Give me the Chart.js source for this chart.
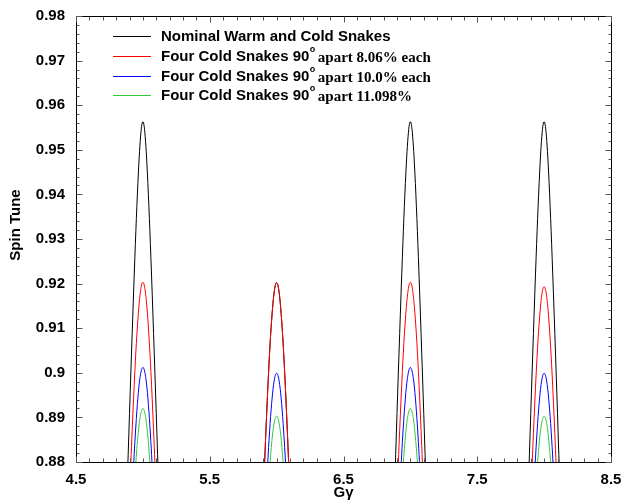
<!DOCTYPE html>
<html>
<head>
<meta charset="utf-8">
<script src="https://cdn.jsdelivr.net/npm/chart.js@4.4.1/dist/chart.umd.min.js"></script>
<style>
  html, body { margin: 0; padding: 0; background: #fff; }
  #wrap { width: 622px; height: 503px; position: relative; }
</style>
</head>
<body>
<div id="wrap"><canvas id="c" width="622" height="503"></canvas></div>
<script>
// ---------------- DATA ----------------
const xTickValues = [4.5, 5.5, 6.5, 7.5, 8.5];
const yTickValues = [0.88, 0.89, 0.90, 0.91, 0.92, 0.93, 0.94, 0.95, 0.96, 0.97, 0.98];

// Nominal Warm and Cold Snakes
const nominalX = [4.88,4.90,4.92,4.94,4.955,4.97,4.98,4.99,5.00,5.01,5.02,5.03,5.045,5.06,5.08,5.10,5.12, 5.5,
                  5.90,5.91,5.92,5.94,5.955,5.97,5.98,5.99,6.00,6.01,6.02,6.03,6.045,6.06,6.08,6.09,6.10, 6.5,
                  6.88,6.90,6.92,6.94,6.955,6.97,6.98,6.99,7.00,7.01,7.02,7.03,7.045,7.06,7.08,7.10,7.12, 7.5,
                  7.88,7.90,7.92,7.94,7.955,7.97,7.98,7.99,8.00,8.01,8.02,8.03,8.045,8.06,8.08,8.10,8.12];
const nominalY = [0.8723,0.8909,0.9088,0.9258,0.9373,0.9470,0.9519,0.9552,0.9563,0.9552,0.9519,0.9470,0.9373,0.9258,0.9088,0.8909,0.8723, null,
                  0.8721,0.8797,0.8870,0.9002,0.9084,0.9147,0.9177,0.9196,0.9202,0.9196,0.9177,0.9147,0.9084,0.9002,0.8870,0.8797,0.8721, null,
                  0.8723,0.8909,0.9088,0.9258,0.9373,0.9470,0.9519,0.9552,0.9563,0.9552,0.9519,0.9470,0.9373,0.9258,0.9088,0.8909,0.8723, null,
                  0.8723,0.8909,0.9088,0.9258,0.9373,0.9470,0.9519,0.9552,0.9563,0.9552,0.9519,0.9470,0.9373,0.9258,0.9088,0.8909,0.8723];

// Four Cold Snakes 90° apart 8.06% each
const cold806X = [4.90,4.91,4.92,4.94,4.955,4.97,4.98,4.99,5.00,5.01,5.02,5.03,5.045,5.06,5.08,5.09,5.10, 5.5,
                  5.90,5.91,5.92,5.94,5.955,5.97,5.98,5.99,6.00,6.01,6.02,6.03,6.045,6.06,6.08,6.09,6.10, 6.5,
                  6.90,6.91,6.92,6.94,6.955,6.97,6.98,6.99,7.00,7.01,7.02,7.03,7.045,7.06,7.08,7.09,7.10, 7.5,
                  7.90,7.91,7.92,7.94,7.955,7.97,7.98,7.99,8.00,8.01,8.02,8.03,8.045,8.06,8.08,8.09,8.10];
const cold806Y = [0.8722,0.8798,0.8871,0.9003,0.9085,0.9148,0.9178,0.9197,0.9203,0.9197,0.9178,0.9148,0.9085,0.9003,0.8871,0.8798,0.8722, null,
                  0.8721,0.8797,0.8870,0.9002,0.9084,0.9147,0.9177,0.9196,0.9202,0.9196,0.9177,0.9147,0.9084,0.9002,0.8870,0.8797,0.8721, null,
                  0.8722,0.8798,0.8871,0.9003,0.9085,0.9148,0.9178,0.9197,0.9203,0.9197,0.9178,0.9148,0.9085,0.9003,0.8871,0.8798,0.8722, null,
                  0.8715,0.8791,0.8864,0.8995,0.9076,0.9139,0.9169,0.9187,0.9193,0.9187,0.9169,0.9139,0.9076,0.8995,0.8864,0.8791,0.8715];

// Four Cold Snakes 90° apart 10.0% each
const cold100X = [4.92,4.93,4.94,4.955,4.97,4.98,4.99,5.00,5.01,5.02,5.03,5.045,5.06,5.07,5.08, 5.5,
                  5.92,5.93,5.94,5.955,5.97,5.98,5.99,6.00,6.01,6.02,6.03,6.045,6.06,6.07,6.08, 6.5,
                  6.92,6.93,6.94,6.955,6.97,6.98,6.99,7.00,7.01,7.02,7.03,7.045,7.06,7.07,7.08, 7.5,
                  7.92,7.93,7.94,7.955,7.97,7.98,7.99,8.00,8.01,8.02,8.03,8.045,8.06,8.07,8.08];
const cold100Y = [0.8729,0.8789,0.8844,0.8914,0.8968,0.8992,0.9007,0.9012,0.9007,0.8992,0.8968,0.8914,0.8844,0.8789,0.8729, null,
                  0.8719,0.8779,0.8833,0.8902,0.8955,0.8979,0.8994,0.8999,0.8994,0.8979,0.8955,0.8902,0.8833,0.8779,0.8719, null,
                  0.8729,0.8789,0.8844,0.8914,0.8968,0.8992,0.9007,0.9012,0.9007,0.8992,0.8968,0.8914,0.8844,0.8789,0.8729, null,
                  0.8719,0.8779,0.8833,0.8902,0.8955,0.8979,0.8994,0.8999,0.8994,0.8979,0.8955,0.8902,0.8833,0.8779,0.8719];

// Four Cold Snakes 90° apart 11.098%
const cold11098X = [4.94,4.95,4.96,4.97,4.98,4.99,5.00,5.01,5.02,5.03,5.04,5.05,5.06, 5.5,
                    5.94,5.95,5.96,5.97,5.98,5.99,6.00,6.01,6.02,6.03,6.04,6.05,6.06, 6.5,
                    6.94,6.95,6.96,6.97,6.98,6.99,7.00,7.01,7.02,7.03,7.04,7.05,7.06, 7.5,
                    7.94,7.95,7.96,7.97,7.98,7.99,8.00,8.01,8.02,8.03,8.04,8.05,8.06];
const cold11098Y = [0.8765,0.8810,0.8848,0.8879,0.8902,0.8915,0.8920,0.8915,0.8902,0.8879,0.8848,0.8810,0.8765, null,
                    0.8750,0.8794,0.8832,0.8863,0.8885,0.8898,0.8903,0.8898,0.8885,0.8863,0.8832,0.8794,0.8750, null,
                    0.8765,0.8810,0.8848,0.8879,0.8902,0.8915,0.8920,0.8915,0.8902,0.8879,0.8848,0.8810,0.8765, null,
                    0.8750,0.8794,0.8832,0.8863,0.8885,0.8898,0.8903,0.8898,0.8885,0.8863,0.8832,0.8794,0.8750];

const legendMain   = ['Nominal Warm and Cold Snakes', 'Four Cold Snakes 90', 'Four Cold Snakes 90', 'Four Cold Snakes 90'];
const legendSuffix = ['', 'apart 8.06% each', 'apart 10.0% each', 'apart 11.098%'];
const seriesColors = ['#000000', '#ff0000', '#0000ff', '#33c833'];
const yTitle = 'Spin Tune';
const xTitle = 'Gγ';
// ---------------------------------------------------------------

function pts(xs, ys) { return xs.map((x, i) => ({ x: x, y: ys[i] })); }

const SANS = '"Liberation Sans", Arial, sans-serif';
const SERIF = '"Liberation Serif", "Times New Roman", serif';

const frameTicks = {
  id: 'frameTicks',
  afterDatasetsDraw(chart) {
    const ctx = chart.ctx, xs = chart.scales.x, ys = chart.scales.y;
    const a = chart.chartArea;
    const L = Math.round(a.left) + 0.5, R = Math.round(a.right) + 0.5;
    const T = Math.round(a.top) + 0.5, B = Math.round(a.bottom) + 0.5;
    ctx.save();
    ctx.strokeStyle = '#000';
    ctx.lineWidth = 1;
    ctx.beginPath();
    ctx.rect(L, T, R - L, B - T);
    ctx.stroke();
    ctx.strokeStyle = '#555';
    ctx.beginPath();
    for (let k = 0; k <= 40; k++) {
      const v = 4.5 + k * 0.1;
      const px = Math.round(xs.getPixelForValue(v)) + 0.5;
      const len = (k % 10 === 0) ? 6 : 4;
      ctx.moveTo(px, B); ctx.lineTo(px, B - len);
      ctx.moveTo(px, T); ctx.lineTo(px, T + len);
    }
    for (let k = 0; k <= 50; k++) {
      const v = 0.88 + k * 0.002;
      const py = Math.round(ys.getPixelForValue(v)) + 0.5;
      const len = (k % 5 === 0) ? 6 : 3;
      ctx.moveTo(L, py); ctx.lineTo(L + len, py);
      ctx.moveTo(R, py); ctx.lineTo(R - len, py);
    }
    ctx.stroke();
    ctx.restore();
  },
  afterDraw(chart) {
    const ctx = chart.ctx;
    const a = chart.chartArea;
    ctx.save();
    // y axis title
    ctx.fillStyle = '#000';
    ctx.font = 'bold 15px ' + SANS;
    ctx.textAlign = 'center';
    ctx.textBaseline = 'middle';
    ctx.save();
    ctx.translate(16, 225);
    ctx.rotate(-Math.PI / 2);
    ctx.fillText(yTitle, 0, 0);
    ctx.restore();
    // x axis title
    ctx.fillText(xTitle, (a.left + a.right) / 2, 493);
    // legend
    const x0 = 113, x1 = 151, tx = 161;
    const rows = [36, 56, 76, 95];
    for (let i = 0; i < 4; i++) {
      const y = rows[i];
      ctx.strokeStyle = seriesColors[i];
      ctx.lineWidth = 1;
      ctx.beginPath();
      ctx.moveTo(x0, y + 0.5); ctx.lineTo(x1, y + 0.5);
      ctx.stroke();
      ctx.fillStyle = '#000';
      ctx.textBaseline = 'middle';
      ctx.textAlign = 'left';
      ctx.font = 'bold 15px ' + SANS;
      ctx.fillText(legendMain[i], tx, y + 1);
      if (legendSuffix[i]) {
        let w = ctx.measureText(legendMain[i]).width;
        ctx.font = 'bold 9px ' + SANS;
        ctx.fillText('o', tx + w + 0.5, y - 6);
        const wo = ctx.measureText('o').width;
        ctx.font = 'bold 15px ' + SERIF;
        ctx.fillText(legendSuffix[i], tx + w + wo + 3, y + 2);
      }
    }
    ctx.restore();
  }
};

const ds = (label, xs, ys, color, order) => ({
  label: label,
  data: pts(xs, ys),
  borderColor: color,
  backgroundColor: color,
  borderWidth: 1,
  pointRadius: 0,
  fill: false,
  spanGaps: false,
  cubicInterpolationMode: 'monotone',
  order: order
});

new Chart(document.getElementById('c'), {
  type: 'line',
  data: {
    datasets: [
      ds('Nominal Warm and Cold Snakes', nominalX, nominalY, seriesColors[0], 4),
      ds('Four Cold Snakes 90° apart 8.06% each', cold806X, cold806Y, seriesColors[1], 3),
      ds('Four Cold Snakes 90° apart 10.0% each', cold100X, cold100Y, seriesColors[2], 2),
      ds('Four Cold Snakes 90° apart 11.098%', cold11098X, cold11098Y, seriesColors[3], 1)
    ]
  },
  options: {
    responsive: false,
    animation: false,
    layout: { padding: { top: 16, right: 11, left: 0, bottom: 0 } },
    plugins: { legend: { display: false }, tooltip: { enabled: false } },
    scales: {
      x: {
        type: 'linear', min: 4.5, max: 8.5,
        grid: { display: false, drawTicks: false, tickLength: 0 }, border: { display: false },
        afterBuildTicks: s => { s.ticks = xTickValues.map(v => ({ value: v })); },
        afterFit: s => { s.height = 41; s.paddingLeft = 0; s.paddingRight = 0; },
        ticks: {
          autoSkip: false, maxRotation: 0, padding: 9, color: '#000',
          font: { family: SANS, size: 15, weight: 'bold' },
          callback: v => String(v)
        },
        title: { display: false }
      },
      y: {
        type: 'linear', min: 0.88, max: 0.98,
        grid: { display: false, drawTicks: false, tickLength: 0 }, border: { display: false },
        afterBuildTicks: s => { s.ticks = yTickValues.map(v => ({ value: v })); },
        afterFit: s => { s.width = 76; s.paddingTop = 0; s.paddingBottom = 0; },
        ticks: {
          padding: 11, color: '#000',
          font: { family: SANS, size: 15, weight: 'bold' },
          callback: v => String(Math.round(v * 100) / 100)
        },
        title: { display: false }
      }
    }
  },
  plugins: [frameTicks]
});
</script>
</body>
</html>
